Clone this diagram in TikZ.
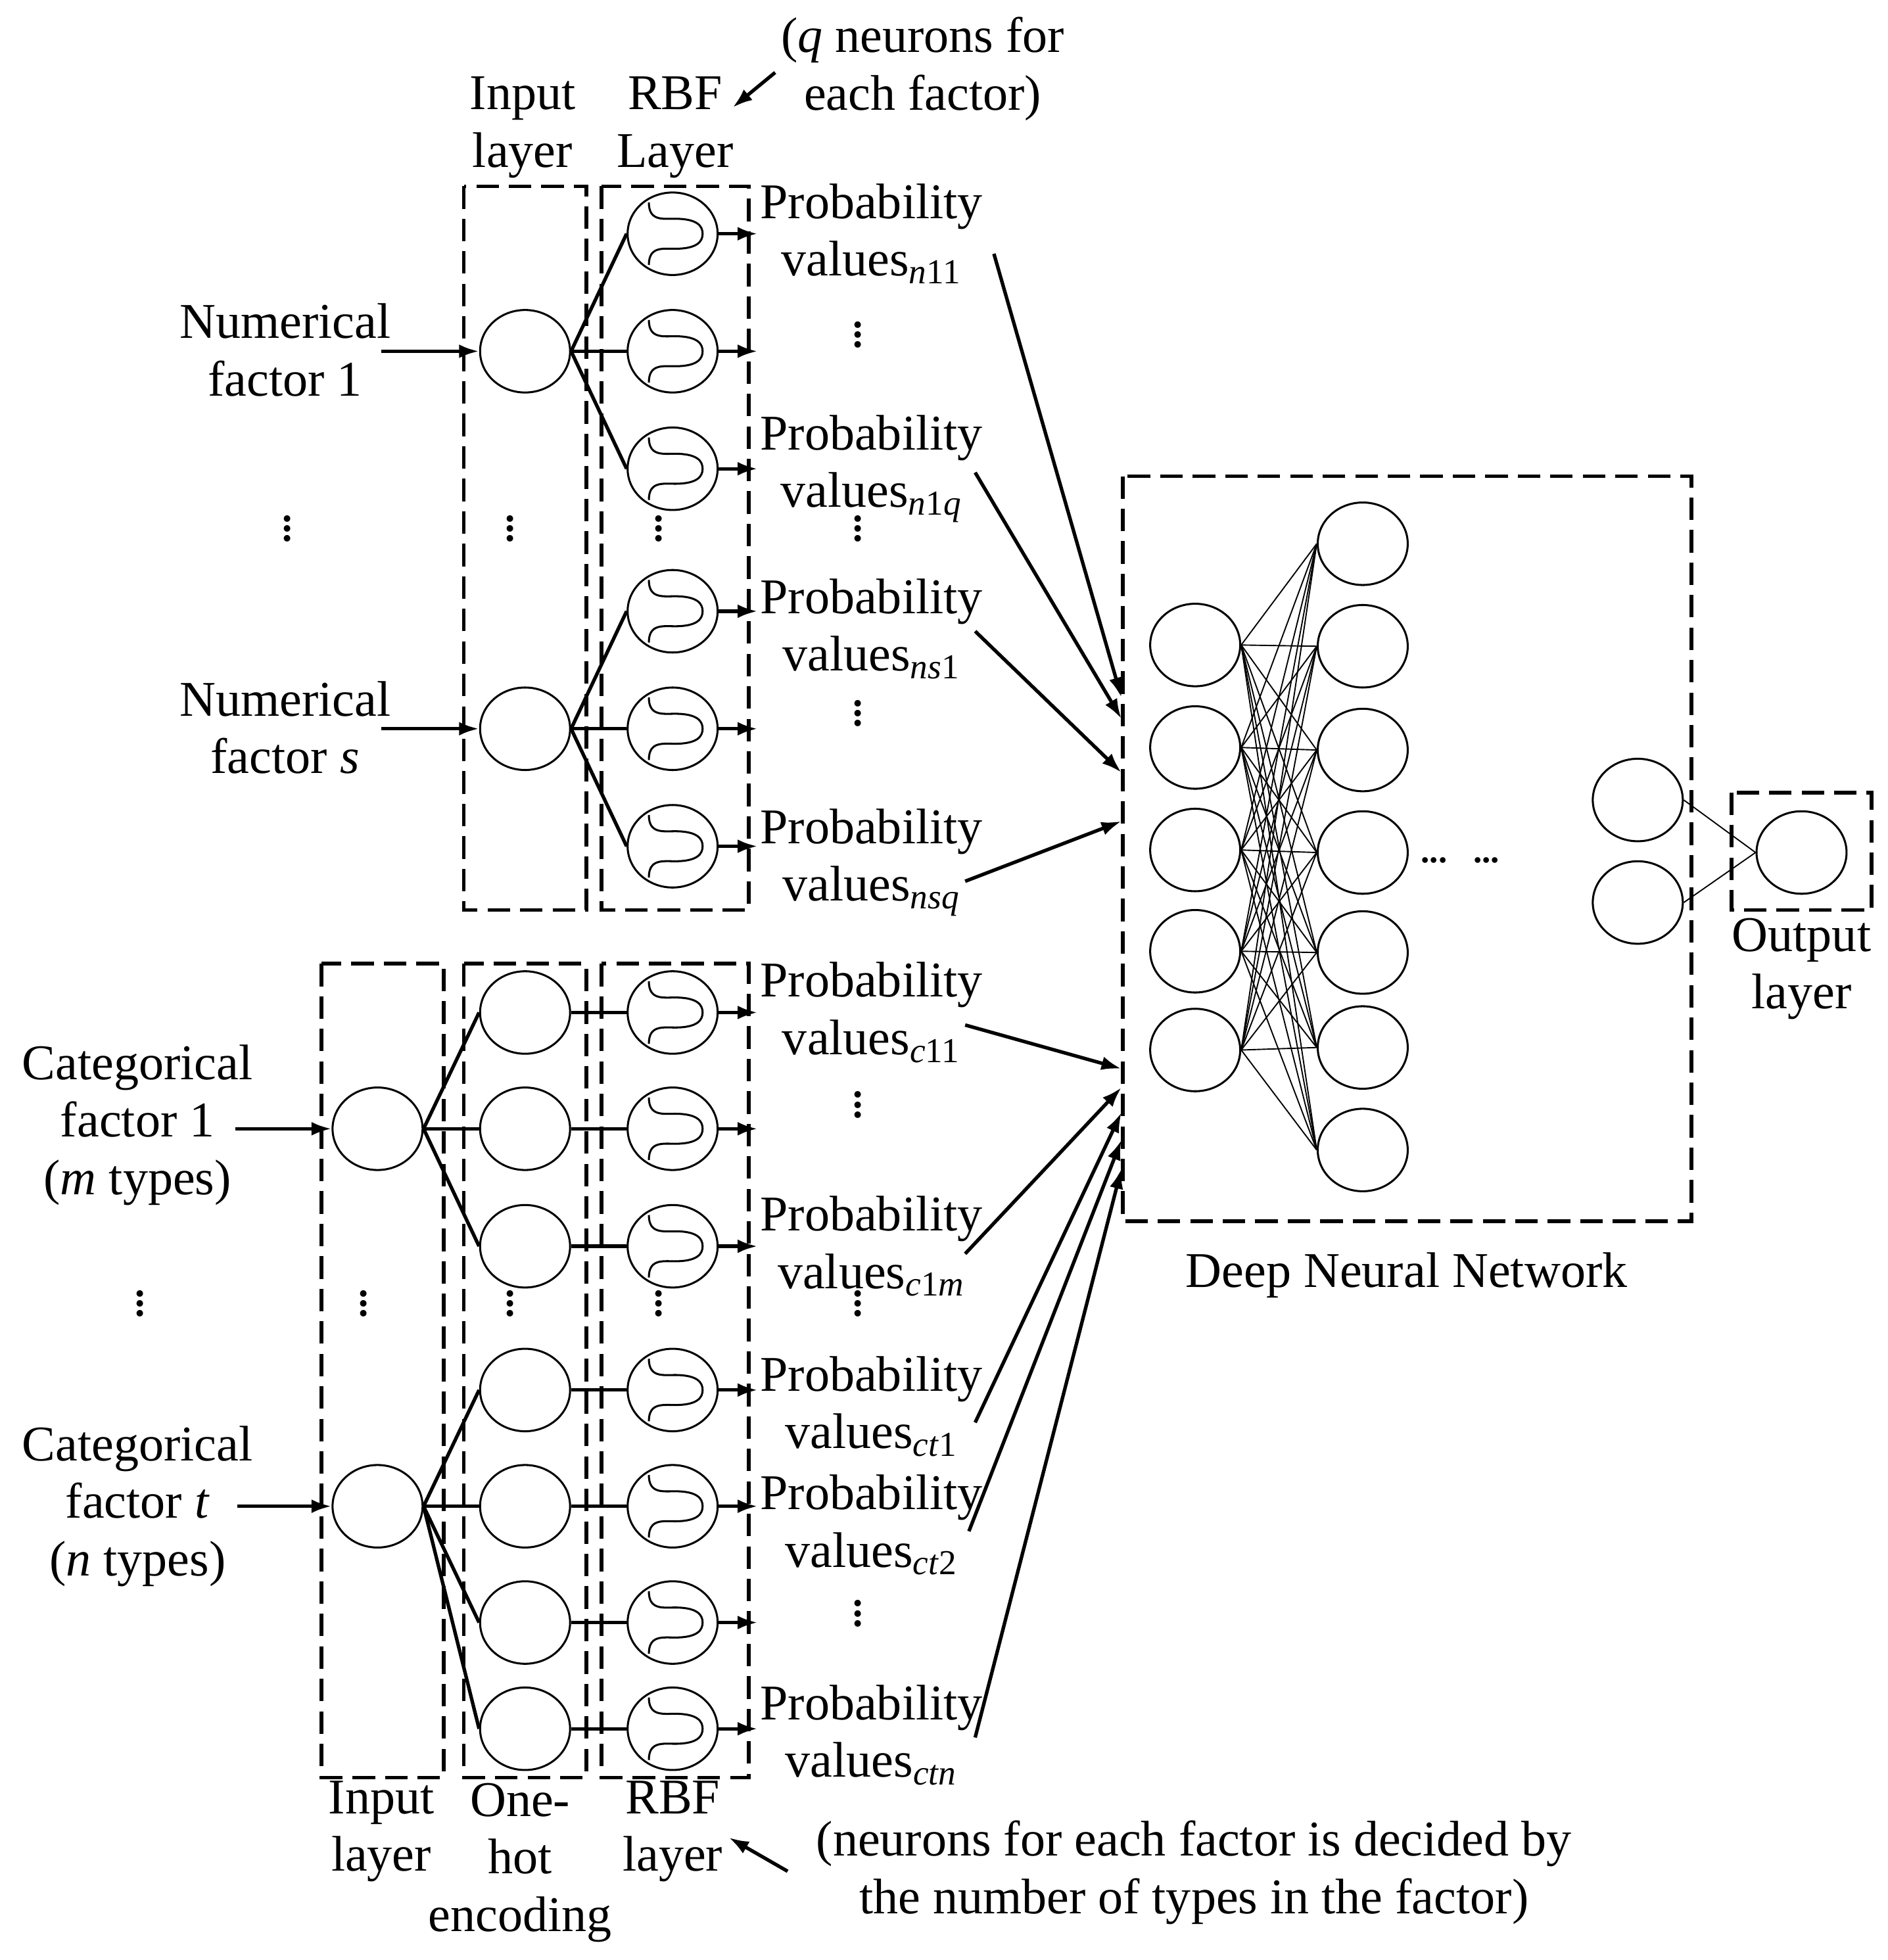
\documentclass[tikz,border=0pt]{standalone}
\usepackage{fontspec}
\setmainfont{Liberation Serif}
\usetikzlibrary{arrows.meta,shapes.geometric}
\newcommand{\sub}[1]{\textsubscript{#1}}
\begin{document}
\begin{tikzpicture}[x=0.5pt,y=-0.5pt,
  neu/.style={draw,ellipse,line width=0.8pt,minimum width=36pt,minimum height=33pt,inner sep=0pt},
  box/.style={draw,line width=1.5pt,dash pattern=on 9pt off 4pt},
  lab/.style={align=center,font=\fontsize{20}{23}\selectfont,inner sep=0pt},
  arr/.style={line width=1.4pt,-{Latex[length=8pt,width=5.5pt]}},
  con/.style={line width=1.4pt},
  thin/.style={line width=0.5pt},
  vd/.style={font=\fontsize{16}{16}\selectfont\bfseries,inner sep=0pt,text height=6pt,text depth=0pt},
  rbf/.pic={\draw[line width=0.8pt] (-19,-25) .. controls (-19,-10) and (-8,-12) .. (2,-12) .. controls (20,-12) and (24,-6) .. (24,0) .. controls (24,6) and (20,12) .. (2,12) .. controls (-8,12) and (-19,10) .. (-19,25);}
]
\useasboundingbox (0,0) rectangle (1510,1568);
% ---------- upper part ----------
\draw[box] (371,149) rectangle (469,728);
\draw[box] (481,149) rectangle (599,728);
\node[lab] at (418,102) {Input\\layer};
\node[lab] at (540,102) {RBF\\Layer};
\node[lab] (qn) at (738,55) {(\textit{q} neurons for\\each factor)};
\coordinate (qa) at (620,58);
\coordinate (qb) at (586,86);
\draw[arr] (qa) -- (qb);
\node[neu] (i1) at (420,281) {};
\node[neu] (i2) at (420,583) {};
\node[lab] (nf1) at (228,280) {Numerical\\factor 1};
\node[lab] (nfs) at (228,582) {Numerical\\factor \textit{s}};
\coordinate (nf1e) at (305,281);
\coordinate (nfse) at (305,583);
\draw[arr] (nf1e) -- (i1);
\draw[arr] (nfse) -- (i2);
\foreach \n/\y/\s in {a/187/i1,b/281/i1,c/375/i1,d/489/i2,e/583/i2,f/677/i2}{
  \node[neu] (r\n) at (538,\y) {};
  \pic at (538,\y) {rbf};
  \coordinate (o\n) at (606,\y);
  \draw[con] (\s.east) -- (r\n.west);
  \draw[arr] (r\n.east) -- (o\n);
}
\foreach \x/\y in {230/427,408/427,527/427,686/272,686/427,686/575}{
  \node[vd] at (\x,\y) {\vdots};
}
\node[lab] (p1) at (697,187) {Probability\\values\sub{\textit{n}11}};
\node[lab] (p2) at (697,375) {Probability\\values\sub{\textit{n}1\textit{q}}};
\node[lab] (p3) at (697,503) {Probability\\values\sub{\textit{ns}1}};
\node[lab] (p4) at (697,690) {Probability\\values\sub{\textit{nsq}}};
% ---------- lower part ----------
\draw[box] (257,771) rectangle (355,1422);
\draw[box] (371,771) rectangle (469,1422);
\draw[box] (481,771) rectangle (599,1422);
\node[neu] (c1) at (302,903) {};
\node[neu] (c2) at (302,1205) {};
\node[lab] (cf1) at (110,900) {Categorical\\factor 1\\(\textit{m} types)};
\node[lab] (cft) at (110,1205) {Categorical\\factor \textit{t}\\(\textit{n} types)};
\coordinate (cf1e) at (188,903);
\coordinate (cfte) at (190,1205);
\draw[arr] (cf1e) -- (c1);
\draw[arr] (cfte) -- (c2);
\foreach \n/\y/\s in {a/810/c1,b/903/c1,c/997/c1,d/1112/c2,e/1205/c2,f/1298/c2,g/1383/c2}{
  \node[neu] (h\n) at (420,\y) {};
  \node[neu] (q\n) at (538,\y) {};
  \pic at (538,\y) {rbf};
  \coordinate (u\n) at (606,\y);
  \draw[con] (\s.east) -- (h\n.west);
  \draw[con] (h\n.east) -- (q\n.west);
  \draw[arr] (q\n.east) -- (u\n);
}
\foreach \x/\y in {112/1047,291/1047,408/1047,527/1047,686/888,686/1047,686/1295}{
  \node[vd] at (\x,\y) {\vdots};
}
\node[lab] (p5) at (697,810) {Probability\\values\sub{\textit{c}11}};
\node[lab] (p6) at (697,997) {Probability\\values\sub{\textit{c}1\textit{m}}};
\node[lab] (p7) at (697,1125) {Probability\\values\sub{\textit{ct}1}};
\node[lab] (p8) at (697,1220) {Probability\\values\sub{\textit{ct}2}};
\node[lab] (p9) at (697,1388) {Probability\\values\sub{\textit{ctn}}};
\node[lab] at (305,1465) {Input\\layer};
\node[lab] at (416,1490) {One-\\hot\\encoding};
\node[lab] at (538,1465) {RBF\\layer};
\node[lab] (nn) at (955,1498) {(neurons for each factor is decided by\\the number of types in the factor)};
\coordinate (na) at (630,1497);
\coordinate (nb) at (583,1470);
\draw[arr] (na) -- (nb);
% ---------- DNN ----------
\draw[box] (898,381) rectangle (1353,977);
\node[lab] at (1125,1020) {Deep Neural Network};
\foreach \i/\y in {1/516,2/598,3/680,4/761,5/840}{\node[neu] (A\i) at (956,\y) {};}
\foreach \j/\y in {1/435,2/517,3/600,4/682,5/762,6/838,7/920}{\node[neu] (B\j) at (1090,\y) {};}
\foreach \i in {1,...,5}{\foreach \j in {1,...,7}{\draw[thin] (A\i.east) -- (B\j.west);}}
\node[font=\fontsize{14}{14}\selectfont\bfseries,inner sep=0pt] at (1147,688) {...};
\node[font=\fontsize{14}{14}\selectfont\bfseries,inner sep=0pt] at (1189,688) {...};
\node[neu] (L1) at (1310,640) {};
\node[neu] (L2) at (1310,722) {};
\draw[box] (1385,634) rectangle (1497,728);
\node[neu] (O) at (1441,682) {};
\draw[thin] (L1.east) -- (O.west);
\draw[thin] (L2.east) -- (O.west);
\node[lab] at (1441,775) {Output\\layer};
% arrows into DNN
\foreach \s/\t/\sx/\sy/\ty in {1/a/795/203/558, 2/b/780/378/575, 3/c/780/505/618, 4/d/772/705/657, 5/e/772/820/855, 6/f/772/1003/870, 7/g/780/1138/890, 8/h/775/1225/912, 9/k/780/1390/935}{
  \coordinate (s\t) at (\sx,\sy);
  \coordinate (t\t) at (897,\ty);
  \draw[arr] (s\t) -- (t\t);
}
\end{tikzpicture}
\end{document}
